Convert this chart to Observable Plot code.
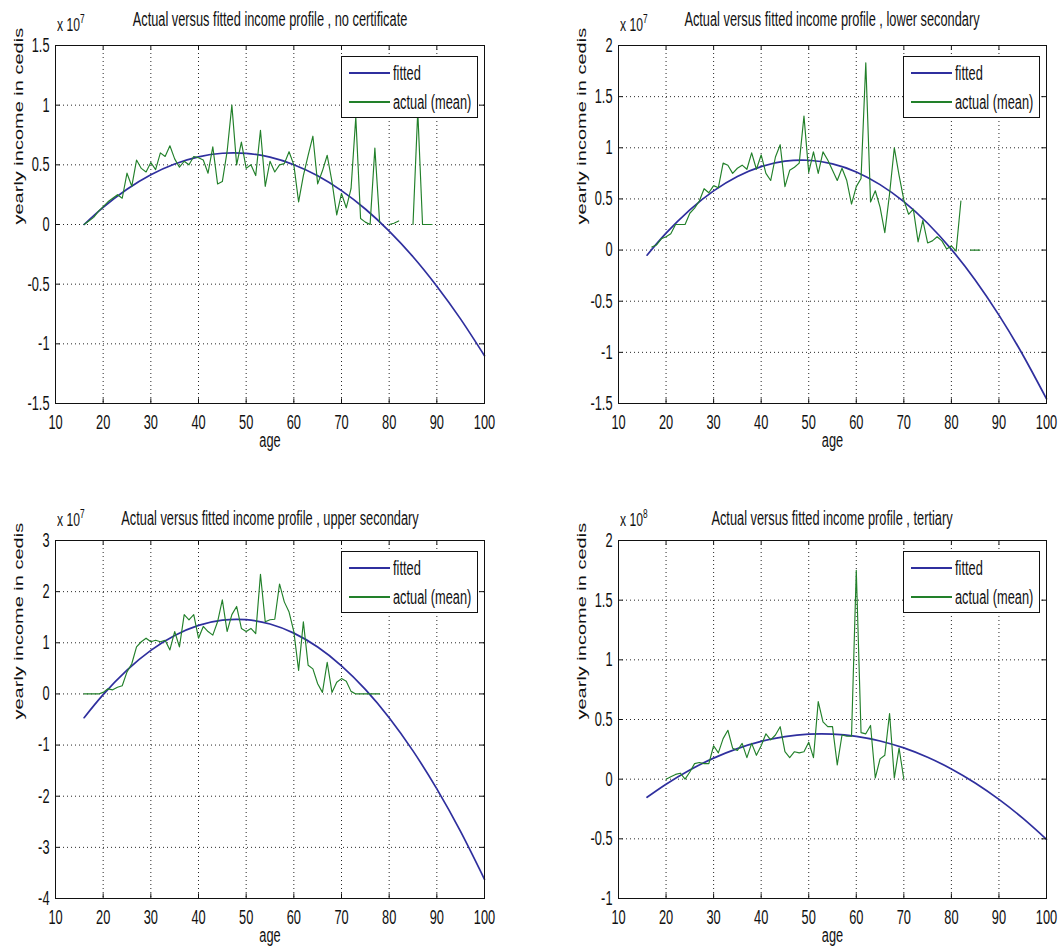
<!DOCTYPE html>
<html>
<head>
<meta charset="utf-8">
<script src="https://cdn.jsdelivr.net/npm/d3@7"></script>
<script src="https://cdn.jsdelivr.net/npm/@observablehq/plot@0.6"></script>
<style>
html, body { margin: 0; padding: 0; background: #fff; }
#root { position: relative; width: 1063px; height: 951px; overflow: hidden; background: #fff;
  font-family: "Liberation Sans", Arial, Helvetica, sans-serif; color: #111; }
.panel { position: absolute; }
.title { position: absolute; white-space: nowrap; font-size: 20px; line-height: 20px;
  transform: translateX(-50%) scaleX(0.64); transform-origin: center center; }
.exp { position: absolute; white-space: nowrap; font-size: 19px; line-height: 19px;
  transform: scaleX(0.64); transform-origin: left center; }
.exp sup { font-size: 13px; vertical-align: 0.6em; line-height: 0; }
.legend { position: absolute; box-sizing: border-box; width: 137px; height: 62px;
  border: 1px solid #111; background: #fff; }
.lg-line { position: absolute; left: 7px; width: 41px; height: 1.6px; }
.lg-text { position: absolute; left: 51px; white-space: nowrap; font-size: 20px; line-height: 20px;
  transform: scaleX(0.64); transform-origin: left center; }
</style>
</head>
<body>
<div id="root"></div>
<script>
// ---------------- data (yearly income, millions of cedis) ----------------
const xTicks = [10, 20, 30, 40, 50, 60, 70, 80, 90, 100];

const fittedAges = [16, 20, 25, 30, 35, 40, 45, 50, 55, 60, 65, 70, 75, 80, 85, 90, 95, 100];

const fittedNoCert   = [0.0, 1.44, 2.95, 4.17, 5.07, 5.67, 5.97, 5.96, 5.64, 5.01, 4.08, 2.84, 1.30, -0.55, -2.70, -5.17, -7.93, -11.0];
const fittedLowerSec = [-0.50, 1.65, 3.94, 5.79, 7.20, 8.16, 8.69, 8.78, 8.43, 7.64, 6.40, 4.73, 2.62, 0.07, -2.92, -6.36, -10.23, -14.54];
const fittedUpperSec = [-4.65, -0.14, 4.65, 8.51, 11.42, 13.40, 14.43, 14.52, 13.68, 11.89, 9.17, 5.50, 0.89, -4.65, -11.14, -18.56, -26.93, -36.24];
const fittedTertiary = [-15.2, -4.24, 7.69, 17.65, 25.62, 31.63, 35.66, 37.71, 37.79, 35.89, 32.02, 26.18, 18.36, 8.56, -3.21, -16.96, -32.68, -50.37];

// actual (mean) by single year of age, starting at the given age; null = no data
const actualNoCertStart = 16;
const actualNoCert = [
  0.0, 0.3, 0.6, 1.1, 1.5, 1.9, 2.2, 2.5, 2.2, 4.3,
  3.2, 5.4, 4.7, 4.4, 5.2, 4.6, 6.0, 5.7, 6.6, 5.5,
  4.8, 5.3, 5.0, 5.7, 5.6, 5.4, 4.3, 6.5, 3.4, 3.6,
  6.1, 10.0, 5.0, 6.9, 4.7, 5.0, 4.1, 7.9, 3.2, 5.3,
  4.4, 5.0, 5.1, 6.1, 5.0, 1.9, 4.1, 5.8, 7.4, 3.4,
  4.5, 5.8, 3.6, 0.8, 2.6, 1.4, 3.0, 9.0, 0.5, 0.2,
  0.0, 6.4, 0.2, null, 0.0, 0.1, 0.3, null, null, 0.0,
  9.5, 0.0, 0.0, 0.0
];

const actualLowerSecStart = 17;
const actualLowerSec = [
  0.3, 0.5, 1.1, 1.3, 1.6, 2.5, 2.5, 2.5, 3.6, 4.1,
  4.8, 6.0, 5.6, 6.3, 6.1, 8.5, 8.3, 7.5, 8.0, 8.3,
  7.9, 9.5, 7.9, 9.3, 7.5, 6.8, 9.1, 10.3, 6.2, 7.8,
  8.1, 8.5, 13.1, 7.6, 9.6, 7.5, 9.6, 8.8, 7.8, 6.8,
  8.0, 6.8, 4.5, 6.2, 7.0, 18.3, 4.7, 5.8, 4.2, 1.7,
  5.5, 10.0, 7.3, 4.9, 3.5, 4.0, 0.8, 2.9, 0.7, 0.9,
  1.3, 0.9, 0.1, 0.4, -0.1, 4.8, null, 0.0, 0.0, 0.0
];

const actualUpperSecStart = 16;
const actualUpperSec = [
  0.0, 0.0, 0.0, 0.0, 0.3, 1.0, 0.8, 1.3, 1.6, 4.3,
  5.9, 9.2, 10.2, 10.9, 10.2, 10.5, 10.2, 10.5, 8.6, 12.2,
  9.2, 15.5, 14.5, 15.5, 10.9, 13.2, 12.2, 11.5, 14.1, 18.4,
  12.2, 15.5, 17.1, 12.8, 12.2, 12.8, 11.8, 23.4, 14.1, 14.5,
  14.6, 21.5, 18.0, 16.0, 12.2, 4.6, 14.1, 5.6, 4.9, 2.0,
  0.3, 6.2, 0.3, 2.3, 3.0, 2.5, 0.5, 0.0, 0.0, 0.0,
  0.0, 0.0, 0.0
];

const actualTertiaryStart = 20;
const actualTertiary = [
  0, 2, 4, 5, 0, 6, 13, 14, 13, 13,
  28, 22, 34, 41, 26, 24, 30, 18, 30, 20,
  28, 38, 33, 37, 44, 23, 18, 23, 22, 23,
  31, 18, 65, 48, 44, 44, 12, 37, 36, 36,
  175, 39, 38, 45, 1, 17, 20, 55, 1, 26,
  0
];

// y tick values (millions) and the axis multiplier exponent
const yTicksNoCert   = [-15, -10, -5, 0, 5, 10, 15];
const yTicksLowerSec = [-15, -10, -5, 0, 5, 10, 15, 20];
const yTicksUpperSec = [-40, -30, -20, -10, 0, 10, 20, 30];
const yTicksTertiary = [-100, -50, 0, 50, 100, 150, 200];

const titles = [
  "Actual versus fitted income profile , no certificate",
  "Actual versus fitted income profile , lower secondary",
  "Actual versus fitted income profile , upper secondary",
  "Actual versus fitted income profile , tertiary"
];
const legendLabels = ["fitted", "actual (mean)"];
const xLabel = "age";
const yLabel = "yearly income in cedis";

// ---------------- layout / style ----------------
const BLUE = "#2f2f9e", GREEN = "#22802a";
const FONT = '"Liberation Sans", Arial, Helvetica, sans-serif';
const SQ = 0.64;

const panels = [
  {title: titles[0], exp: "7", div: 10, yDomain: [-15, 15], yTicks: yTicksNoCert,
   fitted: fittedNoCert, start: actualNoCertStart, actual: actualNoCert,
   sx: 0, sy: 0, w: 531, h: 470, fx0: 55, fx1: 484, fy0: 45, fy1: 403},
  {title: titles[1], exp: "7", div: 10, yDomain: [-15, 20], yTicks: yTicksLowerSec,
   fitted: fittedLowerSec, start: actualLowerSecStart, actual: actualLowerSec,
   sx: 531, sy: 0, w: 532, h: 470, fx0: 618, fx1: 1046, fy0: 45, fy1: 403},
  {title: titles[2], exp: "7", div: 10, yDomain: [-40, 30], yTicks: yTicksUpperSec,
   fitted: fittedUpperSec, start: actualUpperSecStart, actual: actualUpperSec,
   sx: 0, sy: 470, w: 531, h: 481, fx0: 55, fx1: 484, fy0: 540, fy1: 898},
  {title: titles[3], exp: "8", div: 100, yDomain: [-100, 200], yTicks: yTicksTertiary,
   fitted: fittedTertiary, start: actualTertiaryStart, actual: actualTertiary,
   sx: 531, sy: 470, w: 532, h: 481, fx0: 618, fx1: 1046, fy0: 540, fy1: 898}
];

const root = document.getElementById("root");

function squish(t) {
  const len = t.getComputedTextLength();
  if (len > 0) {
    t.setAttribute("textLength", (len * SQ).toFixed(2));
    t.setAttribute("lengthAdjust", "spacingAndGlyphs");
  }
}

function render(p) {
  const [y0, y1] = p.yDomain;
  const fit = fittedAges.map((age, i) => ({age, v: p.fitted[i]}));
  const act = p.actual.map((v, i) => ({age: p.start + i, v}));
  const tl = (y1 - y0) * 0.013;
  const tlx = 90 * 0.011;
  const svg = Plot.plot({
    width: p.w, height: p.h,
    marginLeft: p.fx0 - p.sx, marginRight: p.sx + p.w - p.fx1,
    marginTop: p.fy0 - p.sy, marginBottom: p.sy + p.h - p.fy1,
    style: {fontFamily: FONT, fontSize: "20px", background: "transparent", color: "#111", overflow: "visible"},
    x: {domain: [10, 100]},
    y: {domain: p.yDomain},
    marks: [
      Plot.ruleX(xTicks, {x: d => d, stroke: "#000", strokeOpacity: 0.85, strokeDasharray: "1,3"}),
      Plot.ruleY(p.yTicks, {y: d => d, stroke: "#000", strokeOpacity: 0.85, strokeDasharray: "1,3"}),
      Plot.line(fit, {x: "age", y: "v", stroke: BLUE, strokeWidth: 1.7, curve: "natural"}),
      Plot.line(act, {x: "age", y: "v", stroke: GREEN, strokeWidth: 1.15}),
      Plot.ruleX(xTicks, {x: d => d, y1: y0, y2: y0 + tl, stroke: "#111"}),
      Plot.ruleX(xTicks, {x: d => d, y1: y1, y2: y1 - tl, stroke: "#111"}),
      Plot.ruleY(p.yTicks, {y: d => d, x1: 10, x2: 10 + tlx, stroke: "#111"}),
      Plot.ruleY(p.yTicks, {y: d => d, x1: 100, x2: 100 - tlx, stroke: "#111"}),
      Plot.frame({stroke: "#111"}),
      Plot.axisX(xTicks, {tickSize: 0, tickPadding: 11, fontSize: 20, tickFormat: d => String(d), label: null}),
      Plot.axisY(p.yTicks, {tickSize: 0, tickPadding: 6, fontSize: 20, tickFormat: d => String(+(d / p.div).toFixed(2)), label: null}),
      Plot.text([xLabel], {text: d => d, frameAnchor: "bottom", dy: 43, fontSize: 20}),
      Plot.text([yLabel], {text: d => d, frameAnchor: "left", dx: -37, rotate: -90, fontSize: 20})
    ]
  });
  const wrap = document.createElement("div");
  wrap.className = "panel";
  wrap.style.left = p.sx + "px";
  wrap.style.top = p.sy + "px";
  wrap.appendChild(svg);
  root.appendChild(wrap);

  svg.querySelectorAll("text").forEach(t => {
    const s = t.textContent.trim();
    if (s === yLabel) {
      t.setAttribute("transform", (t.getAttribute("transform") || "") + ` scale(1,${SQ})`);
    } else {
      squish(t);
    }
  });

  // title
  const title = document.createElement("div");
  title.className = "title";
  title.textContent = p.title;
  title.style.left = ((p.fx0 + p.fx1) / 2) + "px";
  title.style.top = (p.fy0 - (p.sy > 0 ? 32 : 36)) + "px";
  root.appendChild(title);

  // exponent
  const exp = document.createElement("div");
  exp.className = "exp";
  exp.innerHTML = `x 10<sup>${p.exp}</sup>`;
  exp.style.left = (p.fx0 + 2) + "px";
  exp.style.top = (p.fy0 - 30) + "px";
  root.appendChild(exp);

  // legend
  const lg = document.createElement("div");
  lg.className = "legend";
  lg.style.left = (p.fx1 - 6 - 137) + "px";
  lg.style.top = (p.fy0 + 11) + "px";
  [[BLUE, 16], [GREEN, 45]].forEach(([c, y], i) => {
    const ln = document.createElement("div");
    ln.className = "lg-line";
    ln.style.top = (y - 1) + "px";
    ln.style.background = c;
    lg.appendChild(ln);
    const tx = document.createElement("div");
    tx.className = "lg-text";
    tx.style.top = (y - 10) + "px";
    tx.textContent = legendLabels[i];
    lg.appendChild(tx);
  });
  root.appendChild(lg);
}

panels.forEach(render);
</script>
</body>
</html>
